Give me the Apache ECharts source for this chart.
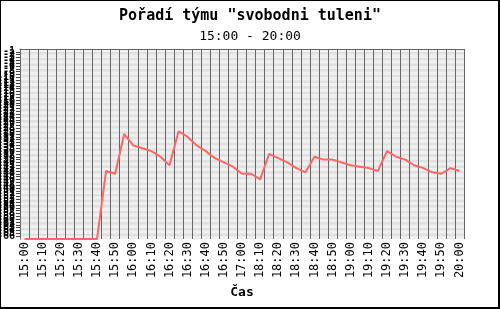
<!DOCTYPE html>
<html>
<head>
<meta charset="utf-8">
<script src="https://cdn.jsdelivr.net/npm/echarts@6/dist/echarts.min.js"></script>
<style>
html,body{margin:0;padding:0;background:#fff;}
#wrap{position:relative;width:500px;height:309px;}
#c{position:absolute;left:0;top:0;width:500px;height:309px;}
#frame{position:absolute;left:0;top:0;width:500px;height:309px;box-sizing:border-box;border-left:1px solid #000;border-top:1px solid #000;border-right:2px solid #000;border-bottom:2px solid #000;pointer-events:none;}
</style>
</head>
<body>
<div id="wrap"><div id="c"></div><div id="frame"></div></div>
<script>
// categories (time of measurement)
const times = [
  "15:00","15:05","15:10","15:15","15:20","15:25","15:30","15:35","15:40","15:45",
  "15:50","15:55","16:00","16:05","16:10","16:15","16:20","16:25","16:30","16:35",
  "16:40","16:45","16:50","16:55","17:00","18:05","18:10","18:15","18:20","18:25",
  "18:30","18:35","18:40","18:45","18:50","18:55","19:00","19:05","19:10","19:15",
  "19:20","19:25","19:30","19:35","19:40","19:45","19:50","19:55","20:00"
];
// team position (plotted as negative rank)
const rankValues = [
  -67,-67,-67,-67,-67,-67,-67,-67,-67,-43,
  -44,-30,-34,-35,-36,-38,-41,-29,-31,-34,
  -36,-38.5,-40,-41.5,-44,-44,-46,-37,-38.5,-40,
  -42,-43.5,-38,-39,-39,-40,-41,-41.5,-42,-43,
  -36,-38,-39,-41,-42,-43.5,-44,-42,-43
];
const yMin = -67, yMax = 0;
const titleText = 'Pořadí týmu "svobodni tuleni"';
const subtitleText = '15:00 - 20:00';
const xName = 'Čas';

const chart = echarts.init(document.getElementById('c'), null, {renderer:'canvas'});
chart.setOption({
  animation:false,
  backgroundColor:'#fff',
  title:{
    text:titleText, subtext:subtitleText, left:'center', top:4, itemGap:6,
    textStyle:{fontFamily:'DejaVu Sans Mono', fontWeight:'bold', fontSize:15, color:'#000'},
    subtextStyle:{fontFamily:'DejaVu Sans Mono', fontSize:13, color:'#000'}
  },
  grid:{left:20, right:36, top:49, bottom:70, containLabel:false, outerBoundsMode:'none'},
  xAxis:{
    type:'category', data:times, boundaryGap:true,
    name:xName, nameLocation:'middle', nameGap:41,
    nameTextStyle:{fontFamily:'DejaVu Sans Mono', fontWeight:'bold', fontSize:13, color:'#000'},
    axisLine:{show:true, lineStyle:{color:'#666', width:1}},
    axisTick:{show:false},
    axisLabel:{interval:1, rotate:90, margin:3, fontFamily:'DejaVu Sans Mono', fontSize:12, color:'#000', hideOverlap:false},
    splitLine:{show:true, interval:0, lineStyle:{color:'#666', width:1}}
  },
  yAxis:{
    type:'value', min:yMin, max:yMax, interval:1,
    axisLine:{show:true, lineStyle:{color:'#666', width:1}},
    axisTick:{show:true, length:4, inside:false, lineStyle:{color:'#444'}},
    axisLabel:{show:true, margin:5, fontFamily:'DejaVu Sans Mono', fontWeight:'bold', fontSize:10, color:'#000', hideOverlap:false},
    splitLine:{show:false},
    splitArea:{show:true, areaStyle:{color:['#f0f0f0','#e0e0e0']}}
  },
  series:[{
    type:'line', data:rankValues, showSymbol:false, symbol:'none',
    lineStyle:{color:'#ff6666', width:2}, z:5
  }]
});
</script>
</body>
</html>
